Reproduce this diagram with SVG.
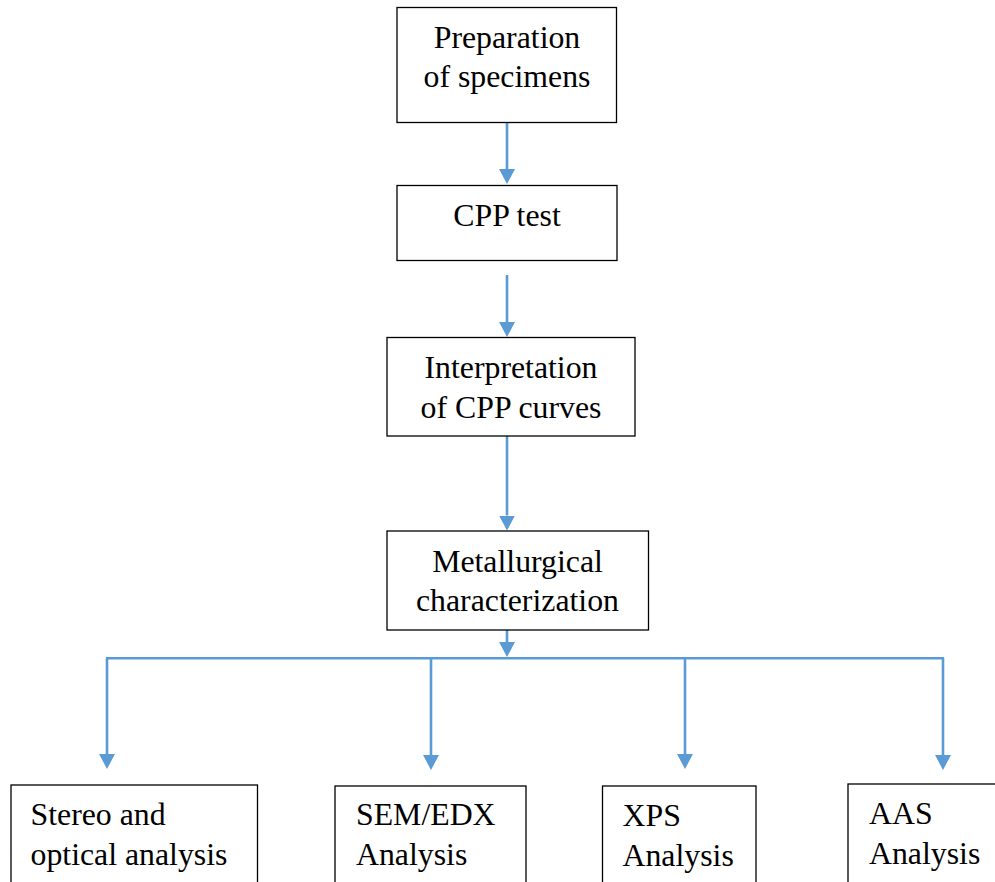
<svg xmlns="http://www.w3.org/2000/svg" width="995" height="882" viewBox="0 0 995 882">
<style>
.box{fill:#fff;stroke:#000;stroke-width:1.3}
.t{font-family:"Liberation Serif","Times New Roman",serif;font-size:31.8px;fill:#000}
.c{text-anchor:middle}
.con{stroke:#5B9BD5;stroke-width:2.6;fill:none}
</style>
<defs>
<marker id="ah" viewBox="0 0 15 16" markerWidth="15" markerHeight="16" refX="0" refY="8" orient="auto" markerUnits="userSpaceOnUse">
<path d="M0,0 L15,8 L0,16 z" fill="#5B9BD5"/>
</marker>
</defs>
<rect width="995" height="882" fill="#fff"/>
<g id="connectors">
<line class="con" x1="507" y1="123" x2="507" y2="169" marker-end="url(#ah)"/>
<line class="con" x1="507" y1="275" x2="507" y2="322" marker-end="url(#ah)"/>
<line class="con" x1="507" y1="436" x2="507" y2="515.5" marker-end="url(#ah)"/>
<line class="con" x1="507" y1="630" x2="507" y2="642" marker-end="url(#ah)"/>
<line class="con" x1="106" y1="658.3" x2="944" y2="658.3"/>
<line class="con" x1="107" y1="658" x2="107" y2="754" marker-end="url(#ah)"/>
<line class="con" x1="431" y1="658" x2="431" y2="755" marker-end="url(#ah)"/>
<line class="con" x1="685" y1="658" x2="685" y2="754" marker-end="url(#ah)"/>
<line class="con" x1="943" y1="658" x2="943" y2="755" marker-end="url(#ah)"/>
</g>
<g id="n1">
<rect class="box" x="397" y="7.5" width="219.5" height="115"/>
<text class="t c" x="507" y="48">Preparation</text>
<text class="t c" x="507" y="87">of specimens</text>
</g>
<g id="n2">
<rect class="box" x="397" y="185.5" width="220" height="75"/>
<text class="t c" x="507" y="226">CPP test</text>
</g>
<g id="n3">
<rect class="box" x="387" y="337.5" width="248" height="98.5"/>
<text class="t c" x="511" y="378">Interpretation</text>
<text class="t c" x="511" y="418">of CPP curves</text>
</g>
<g id="n4">
<rect class="box" x="387" y="531" width="261.5" height="99"/>
<text class="t c" x="517.5" y="572">Metallurgical</text>
<text class="t c" x="517.5" y="611">characterization</text>
</g>
<g id="n5">
<rect class="box" x="11" y="785" width="246.5" height="110"/>
<text class="t" x="30.5" y="825">Stereo and</text>
<text class="t" x="30.5" y="865">optical analysis</text>
</g>
<g id="n6">
<rect class="box" x="335" y="786" width="191" height="110"/>
<text class="t" x="356" y="825">SEM/EDX</text>
<text class="t" x="356" y="865">Analysis</text>
</g>
<g id="n7">
<rect class="box" x="602.5" y="786" width="153.5" height="110"/>
<text class="t" x="622.5" y="826">XPS</text>
<text class="t" x="622.5" y="866">Analysis</text>
</g>
<g id="n8">
<rect class="box" x="848" y="784" width="160" height="110"/>
<text class="t" x="869" y="824">AAS</text>
<text class="t" x="869" y="864">Analysis</text>
</g>
</svg>
